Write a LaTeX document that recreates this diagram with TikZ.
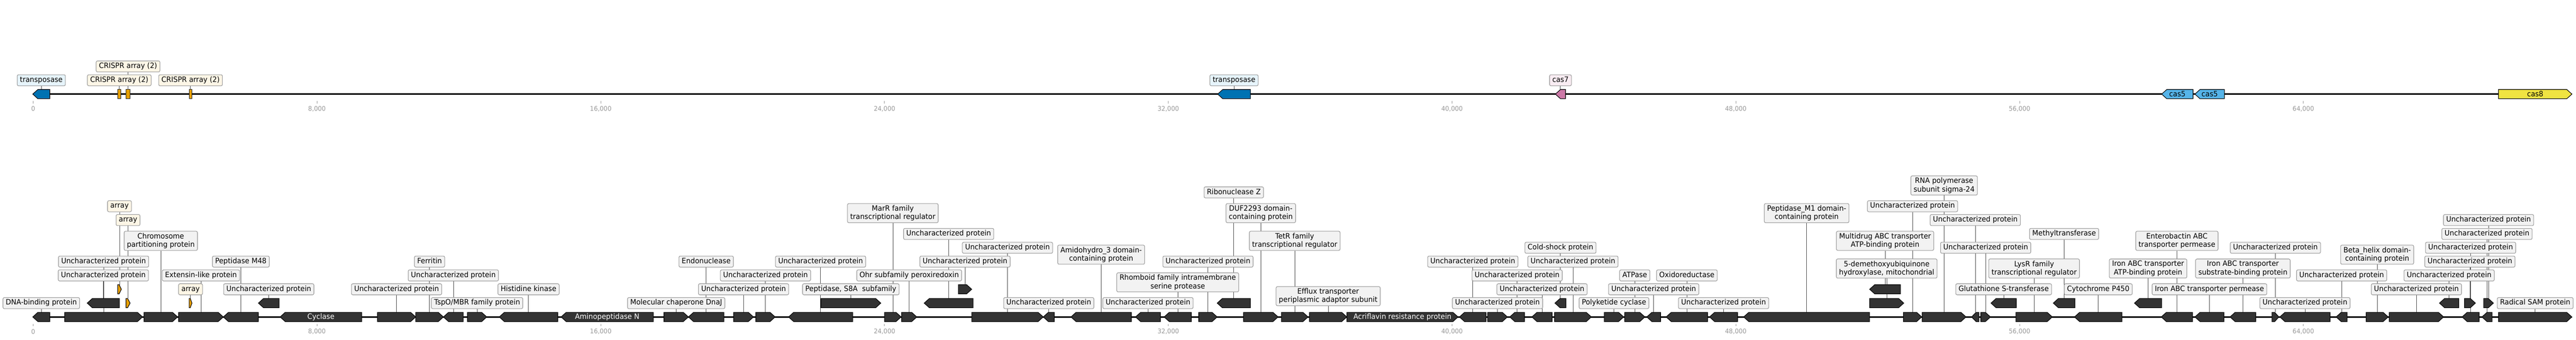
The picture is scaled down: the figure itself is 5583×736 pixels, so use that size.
\documentclass[tikz,border=0pt]{standalone}
\usepackage{fontspec}
\setmainfont{DejaVu Sans}[FakeStretch=0.95]

\definecolor{genedark}{HTML}{333333}
\definecolor{boxfill}{HTML}{F2F2F2}
\definecolor{boxline}{HTML}{999999}
\definecolor{creamfill}{HTML}{FDF6E6}
\definecolor{bluefill}{HTML}{E6F4FB}
\definecolor{pinkfill}{HTML}{F9ECF2}
\definecolor{okorange}{HTML}{E69F00}
\definecolor{okblue}{HTML}{0072B2}
\definecolor{okpink}{HTML}{CC79A7}
\definecolor{oksky}{HTML}{56B4E9}
\definecolor{okyellow}{HTML}{F0E442}
\definecolor{tickgray}{HTML}{999999}

\pgfdeclarelayer{background}
\pgfsetlayers{background,main}

\tikzset{
  gene/.style={draw=black,fill=genedark,line width=1.2pt},
  arr/.style={draw=black!85,fill=okorange,line width=1.2pt},
  box/.style={draw=boxline,fill=boxfill,rounded corners=3pt,line width=1.2pt,inner xsep=6pt,inner ysep=4pt},
  lbl/.style={box,text height=12pt,text depth=4pt},
  lbltwo/.style={box,align=center},
  conn/.style={draw=black!70,line width=0.9pt},
  inlbl/.style={text=white,inner sep=0pt},
  track/.style={line width=3pt},
  tick/.style={draw=tickgray,line width=0.8pt},
  ticklbl/.style={text=tickgray,inner sep=0pt,font=\fontsize{14}{16}\selectfont}
}

% [style] x1 x2 y name
\newcommand{\genefwd}[5][gene]{%
  \pgfmathsetmacro\ghead{min(11,0.6*(#3-#2))}%
  \draw[#1] (#2,#4-10) -- ({#3-\ghead},#4-10) -- (#3,#4) -- ({#3-\ghead},#4+10) -- (#2,#4+10) -- cycle;
  \coordinate (#5) at ({(#2+#3)/2},#4-10);}
\newcommand{\generev}[5][gene]{%
  \pgfmathsetmacro\ghead{min(11,0.6*(#3-#2))}%
  \draw[#1] (#3,#4-10) -- ({#2+\ghead},#4-10) -- (#2,#4) -- ({#2+\ghead},#4+10) -- (#3,#4+10) -- cycle;
  \coordinate (#5) at ({(#2+#3)/2},#4-10);}
% [style] gene y text
\newcommand{\genelab}[4][lbl]{%
  \node[#1] (L#2) at (#2 |- 0,#3) {#4};
  \begin{pgfonlayer}{background}\draw[conn] (#2) -- (L#2.south);\end{pgfonlayer}}

\begin{document}
\begin{tikzpicture}[x=1pt,y=-1pt,font=\fontsize{16}{18}\selectfont]
\useasboundingbox (0,0) rectangle (5583,736);
\begin{pgfonlayer}{background}
\fill[white] (0,0) rectangle (5583,736);
\end{pgfonlayer}

% axes
\draw[track] (71,204) -- (5574,204);
\draw[track] (71,687) -- (5574,687);
\foreach \k/\t in {0/0,1/{8,000},2/{16,000},3/{24,000},4/{32,000},5/{40,000},6/{48,000},7/{56,000},8/{64,000}}{
  \draw[tick] (72+615*\k,219) -- (72+615*\k,224);
  \node[ticklbl] (ta\k) at (72+615*\k,236) {\t};
  \draw[tick] (72+615*\k,702) -- (72+615*\k,707);
  \node[ticklbl] (tb\k) at (72+615*\k,719) {\t};
}

% top track
\generev[gene,fill=okblue]{71}{108}{204}{tA}
\genelab[lbl,fill=bluefill]{tA}{174}{transposase}
\draw[arr] (255,194) rectangle (262,214); \coordinate (cA) at (258.5,194);
\draw[arr] (273,194) rectangle (282,214); \coordinate (cB) at (277.5,194);
\draw[arr] (410,194) rectangle (416,214); \coordinate (cC) at (413,194);
\genelab[lbl,fill=creamfill]{cA}{174}{CRISPR array (2)}
\genelab[lbl,fill=creamfill]{cB}{144}{CRISPR array (2)}
\genelab[lbl,fill=creamfill]{cC}{174}{CRISPR array (2)}
\generev[gene,fill=okblue]{2639}{2710}{204}{tB}
\genelab[lbl,fill=bluefill]{tB}{174}{transposase}
\generev[gene,fill=okpink]{3371}{3393}{204}{casA}
\genelab[lbl,fill=pinkfill]{casA}{174}{cas7}
\generev[gene,fill=oksky]{4685}{4753}{204}{casB}
\node[inlbl,text=black] (NcasB) at (casB |- 0,204) {cas5};
\generev[gene,fill=oksky]{4757}{4821}{204}{casC}
\node[inlbl,text=black] (NcasC) at (casC |- 0,204) {cas5};
\genefwd[gene,fill=okyellow]{5415}{5574}{204}{casD}
\node[inlbl,text=black] (NcasD) at (casD |- 0,204) {cas8};

% bottom track
\generev{71}{108}{687}{g1}
\genelab{g1}{657}{DNA-binding protein}
\genefwd{140}{309}{687}{g2}
\genelab{g2}{567}{Uncharacterized protein}
\generev{189}{259}{657}{g3}
\genelab{g3}{597}{Uncharacterized protein}
\genefwd[gene,fill=okorange]{273}{282}{657}{a1}
\genelab[lbl,fill=creamfill]{a1}{477}{array}
\genefwd[gene,fill=okorange]{255}{263}{627}{a2}
\genelab[lbl,fill=creamfill]{a2}{447}{array}
\genefwd{312}{385}{687}{g4}
\genelab[lbltwo]{g4}{522}{Chromosome\\partitioning protein}
\genefwd[gene,fill=okorange]{410}{416}{657}{a3}
\genelab[lbl,fill=creamfill]{a3}{627}{array}
\genefwd{387}{484}{687}{g5}
\genelab{g5}{597}{Extensin-like protein}
\generev{484}{560}{687}{g6}
\genelab{g6}{567}{Peptidase M48}
\generev{560}{605}{657}{g7}
\genelab{g7}{627}{Uncharacterized protein}
\generev{607}{784}{687}{g8}
\node[inlbl] (Ng8) at (g8 |- 0,687) {Cyclase};
\genefwd{818}{901}{687}{g9}
\genelab{g9}{627}{Uncharacterized protein}
\genefwd{901}{961}{687}{g10}
\genelab{g10}{567}{Ferritin}
\generev{961}{1004}{687}{g11}
\genelab{g11}{597}{Uncharacterized protein}
\genefwd{1013}{1055}{687}{g12}
\genelab{g12}{657}{TspO/MBR family protein}
\generev{1082}{1209}{687}{g13}
\genelab{g13}{627}{Histidine kinase}
\generev{1216}{1416}{687}{g14}
\node[inlbl] (Ng14) at (g14 |- 0,687) {Aminopeptidase N};
\genefwd{1439}{1492}{687}{g15}
\genelab{g15}{657}{Molecular chaperone DnaJ}
\generev{1492}{1569}{687}{g16}
\genelab{g16}{567}{Endonuclease}
\genefwd{1590}{1633}{687}{g17}
\genelab{g17}{627}{Uncharacterized protein}
\genefwd{1638}{1680}{687}{g18}
\genelab{g18}{597}{Uncharacterized protein}
\generev{1709}{1848}{687}{g19}
\genelab{g19}{567}{Uncharacterized protein}
\genefwd{1779}{1909}{657}{g20}
\genelab{g20}{627}{Peptidase, S8A~ subfamily}
\genefwd{1917}{1953}{687}{g21}
\genelab[lbltwo]{g21}{462}{MarR family\\transcriptional regulator}
\genefwd{1954}{1987}{687}{g22}
\genelab{g22}{597}{Ohr subfamily peroxiredoxin}
\generev{2003}{2109}{657}{g23}
\genelab{g23}{507}{Uncharacterized protein}
\genefwd{2077}{2106}{627}{g24}
\genelab{g24}{567}{Uncharacterized protein}
\genefwd{2106}{2261}{687}{g25}
\genelab{g25}{537}{Uncharacterized protein}
\generev{2261}{2285}{687}{g26}
\genelab{g26}{657}{Uncharacterized protein}
\generev{2321}{2452}{687}{g27}
\genelab[lbltwo]{g27}{552}{Amidohydro\_3 domain-\\containing protein}
\generev{2461}{2515}{687}{g28}
\genelab{g28}{657}{Uncharacterized protein}
\generev{2523}{2582}{687}{g29}
\genelab[lbltwo]{g29}{612}{Rhomboid family intramembrane\\serine protease}
\genefwd{2598}{2638}{687}{g30}
\genelab{g30}{567}{Uncharacterized protein}
\generev{2638}{2710}{657}{g31}
\genelab{g31}{417}{Ribonuclease Z}
\genefwd{2695}{2770}{687}{g32}
\genelab[lbltwo]{g32}{462}{DUF2293 domain-\\containing protein}
\genefwd{2777}{2835}{687}{g33}
\genelab[lbltwo]{g33}{522}{TetR family\\transcriptional regulator}
\genefwd{2838}{2919}{687}{g34}
\genelab[lbltwo]{g34}{642}{Efflux transporter\\periplasmic adaptor subunit}
\genefwd{2919}{3160}{687}{g35}
\node[inlbl] (Ng35) at (g35 |- 0,687) {Acriflavin resistance protein};
\generev{3163}{3221}{687}{g36}
\genelab{g36}{567}{Uncharacterized protein}
\genefwd{3224}{3267}{687}{g37}
\genelab{g37}{657}{Uncharacterized protein}
\generev{3272}{3304}{687}{g38}
\genelab{g38}{597}{Uncharacterized protein}
\generev{3320}{3364}{687}{g39}
\genelab{g39}{627}{Uncharacterized protein}
\generev{3370}{3394}{657}{g40}
\genelab{g40}{537}{Cold-shock protein}
\genefwd{3369}{3449}{687}{g41}
\genelab{g41}{567}{Uncharacterized protein}
\genefwd{3477}{3519}{687}{g42}
\genelab{g42}{657}{Polyketide cyclase}
\genefwd{3521}{3565}{687}{g43}
\genelab{g43}{597}{ATPase}
\generev{3569}{3599}{687}{g44}
\genelab{g44}{627}{Uncharacterized protein}
\generev{3611}{3701}{687}{g45}
\genelab{g45}{597}{Oxidoreductase}
\generev{3705}{3766}{687}{g46}
\genelab{g46}{657}{Uncharacterized protein}
\generev{3779}{4052}{687}{g47}
\genelab[lbltwo]{g47}{462}{Peptidase\_M1 domain-\\containing protein}
\genefwd{4052}{4126}{657}{g48}
\genelab[lbltwo]{g48}{582}{5-demethoxyubiquinone\\hydroxylase, mitochondrial}
\generev{4052}{4119}{627}{g49}
\genelab[lbltwo]{g49}{522}{Multidrug ABC transporter\\ATP-binding protein}
\genefwd{4125}{4165}{687}{g50}
\genelab{g50}{447}{Uncharacterized protein}
\genefwd{4166}{4261}{687}{g51}
\genelab[lbltwo]{g51}{402}{RNA polymerase\\subunit sigma-24}
\generev{4273}{4289}{687}{g52}
\genelab{g52}{477}{Uncharacterized protein}
\genefwd{4293}{4314}{687}{g53}
\genelab{g53}{537}{Uncharacterized protein}
\generev{4315}{4370}{657}{g54}
\genelab{g54}{627}{Glutathione S-transferase}
\genefwd{4369}{4448}{687}{g55}
\genelab[lbltwo]{g55}{582}{LysR family\\transcriptional regulator}
\generev{4450}{4497}{657}{g56}
\genelab{g56}{507}{Methyltransferase}
\generev{4496}{4599}{687}{g57}
\genelab{g57}{627}{Cytochrome P450}
\generev{4626}{4685}{657}{g58}
\genelab[lbltwo]{g58}{582}{Iron ABC transporter\\ATP-binding protein}
\generev{4684}{4752}{687}{g59}
\genelab[lbltwo]{g59}{522}{Enterobactin ABC\\transporter permease}
\generev{4757}{4820}{687}{g60}
\genelab{g60}{627}{Iron ABC transporter permease}
\generev{4833}{4889}{687}{g61}
\genelab[lbltwo]{g61}{582}{Iron ABC transporter\\substrate-binding protein}
\genefwd{4924}{4939}{687}{g62}
\genelab{g62}{537}{Uncharacterized protein}
\generev{4941}{5050}{687}{g63}
\genelab{g63}{657}{Uncharacterized protein}
\generev{5063}{5087}{687}{g64}
\genelab{g64}{597}{Uncharacterized protein}
\genefwd{5128}{5176}{687}{g65}
\genelab[lbltwo]{g65}{552}{Beta\_helix domain-\\containing protein}
\genefwd{5178}{5296}{687}{g66}
\genelab{g66}{627}{Uncharacterized protein}
\generev{5287}{5329}{657}{g67}
\genelab{g67}{597}{Uncharacterized protein}
\genefwd{5341}{5365}{657}{g68}
\genelab{g68}{567}{Uncharacterized protein}
\generev{5336}{5373}{687}{g69}
\genelab{g69}{537}{Uncharacterized protein}
\genefwd{5383}{5404}{657}{g70}
\genelab{g70}{477}{Uncharacterized protein}
\generev{5379}{5401}{687}{g71}
\genelab{g71}{507}{Uncharacterized protein}
\genefwd{5415}{5574}{687}{g72}
\genelab{g72}{657}{Radical SAM protein}
\end{tikzpicture}
\end{document}
